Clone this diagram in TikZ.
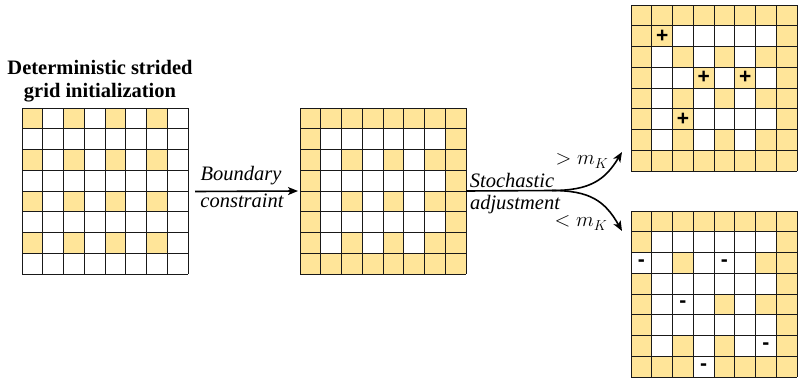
\documentclass[tikz,border=0pt]{standalone}
\usepackage{fontspec}
\setmainfont{Liberation Serif}
\newfontfamily\tmsfont{Liberation Serif}
\newfontfamily\arlfont{Liberation Sans}
\usetikzlibrary{arrows.meta}
\definecolor{cellyel}{RGB}{255,229,153}
\definecolor{gridline}{RGB}{25,25,25}
\tikzset{
  gridframe/.style={minimum size=166pt, inner sep=0pt, outer sep=0pt},
  gline/.style={draw=gridline, line width=1pt},
  cellmark/.style={font=\arlfont\bfseries\fontsize{21}{21}\selectfont, inner sep=0pt},
  flowarrow/.style={line width=1.6pt, -{Stealth[length=10pt,width=8pt,inset=2.5pt]}},
  flowline/.style={line width=1.6pt},
  lbl/.style={font=\tmsfont\itshape\fontsize{20.5}{22}\selectfont, inner sep=0pt},
  mlbl/.style={font=\tmsfont\fontsize{19.5}{22}\selectfont, inner sep=0pt},
  title/.style={font=\tmsfont\bfseries\fontsize{20.5}{22.5}\selectfont, align=center, inner sep=0pt}
}
\newcommand\mygrid[4]{%
  \node[gridframe] (#1) at (#2+83,#3+83) {};
  \foreach \r/\pat in {#4} {
    \foreach \v [count=\c from 0] in \pat {
      \ifnum\v=1
        \fill[cellyel] (#2+\c*20.75,#3+\r*20.75) rectangle ++(20.75,20.75);
      \fi
    }
  }
  \foreach \i in {0,...,8} {
    \draw[gline] (#2+\i*20.75,#3) -- (#2+\i*20.75,#3+166);
    \draw[gline] (#2,#3+\i*20.75) -- (#2+166,#3+\i*20.75);
  }
}
\begin{document}
\begin{tikzpicture}[x=1pt,y=-1pt]
\useasboundingbox (0,0) rectangle (799,380);

% Grid 1: strided initialization
\mygrid{G1}{22}{108}{0/{1,0,1,0,1,0,1,0},1/{0,0,0,0,0,0,0,0},2/{1,0,1,0,1,0,1,0},3/{0,0,0,0,0,0,0,0},4/{1,0,1,0,1,0,1,0},5/{0,0,0,0,0,0,0,0},6/{1,0,1,0,1,0,1,0},7/{0,0,0,0,0,0,0,0}}

% Grid 2: boundary constraint
\mygrid{G2}{300}{108}{0/{1,1,1,1,1,1,1,1},1/{1,0,0,0,0,0,0,1},2/{1,0,1,0,1,0,1,1},3/{1,0,0,0,0,0,0,1},4/{1,0,1,0,1,0,1,1},5/{1,0,0,0,0,0,0,1},6/{1,0,1,0,1,0,1,1},7/{1,1,1,1,1,1,1,1}}

% Grid 3: > m_K
\mygrid{G3}{631}{5}{0/{1,1,1,1,1,1,1,1},1/{1,1,0,0,0,0,0,1},2/{1,0,1,0,1,0,1,1},3/{1,0,0,1,0,1,0,1},4/{1,0,1,0,1,0,1,1},5/{1,0,1,0,0,0,0,1},6/{1,0,1,0,1,0,1,1},7/{1,1,1,1,1,1,1,1}}

% Grid 4: < m_K
\mygrid{G4}{631}{211}{0/{1,1,1,1,1,1,1,1},1/{1,0,0,0,0,0,0,1},2/{0,0,1,0,0,0,1,1},3/{1,0,0,0,0,0,0,1},4/{1,0,0,0,1,0,1,1},5/{1,0,0,0,0,0,0,1},6/{1,0,1,0,1,0,0,1},7/{1,1,1,0,1,1,1,1}}

% plus markers
\foreach \n/\r/\c in {p1/1/1,p2/3/3,p3/3/5,p4/5/2}
  \node[cellmark] (\n) at (631+\c*20.75+10.4,5+\r*20.75+10.4) {+};
% minus markers
\foreach \n/\r/\c in {m1/2/0,m2/2/4,m3/4/2,m4/6/6,m5/7/3}
  \node[cellmark] (\n) at (631+\c*20.75+10.4,211+\r*20.75+10.4) {-};

% title
\node[title] (T) at (100,81) {Deterministic strided\\grid initialization};

% arrow 1
\draw[flowarrow] ([xshift=7pt,yshift=-0.5pt]G1.east) -- ([xshift=-2pt]G2.west);
\node[lbl] (L1) at (241,176) {Boundary};
\node[lbl] (L2) at (242,201) {constraint};

% arrow 2 (branching)
\coordinate (B) at (552,190.5);
\coordinate (TU) at (622,152);
\coordinate (TD) at (622,231);
\draw[flowline] (G2.east) -- (B);
\draw[flowarrow] (B) .. controls (590,190.5) and (605,180) .. (TU);
\draw[flowarrow] (B) .. controls (590,190.5) and (605,201) .. (TD);
\node[lbl] (L3) at (512,180) {Stochastic};
\node[lbl] (L4) at (515,205) {adjustment};
\node[mlbl] (L5) at (582,161) {$>m_K$};
\node[mlbl] (L6) at (581,223) {$<m_K$};
\end{tikzpicture}
\end{document}
